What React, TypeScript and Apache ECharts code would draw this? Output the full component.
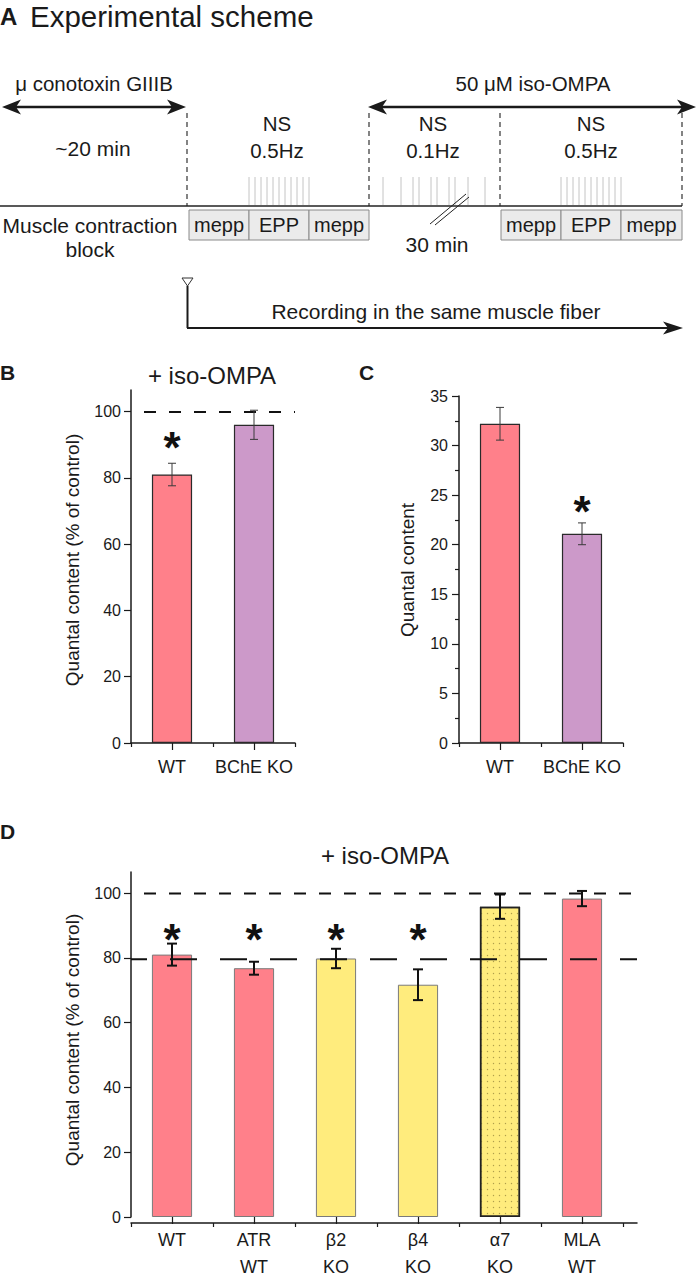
import React, { useEffect, useRef } from 'react';
import * as echarts from 'echarts';

// ---------- data ----------
const catsB = ['WT', 'BChE KO'];
const valsB = [81, 96];
const errB = [3.4, 4.4];
const starB = [92.3, null];
const refB = [100];

const catsC = ['WT', 'BChE KO'];
const valsC = [32.2, 21.1];
const errC = [1.65, 1.1];
const starC = [null, 24.4];

const catsD = ['WT', 'ATR\nWT', 'β2\nKO', 'β4\nKO', 'α7\nKO', 'MLA\nWT'];
const valsD = [81, 76.8, 79.8, 71.7, 95.8, 98.3];
const errD = [3.4, 2, 3, 4.75, 3.75, 2.35];
const starD = [88.7, 88.7, 88.7, 88.7, null, null];
const refD = [100, 80];

const pctTicks = [0, 20, 40, 60, 80, 100];

// ---------- styles ----------
const FONT = "'Liberation Sans', Arial, Helvetica, sans-serif";
const INK = '#1a1a1a';
const PINK = '#FF808A';
const PURPLE = '#CC99C9';
const YELLOW = '#FFEC7D';
const colorsB = [PINK, PURPLE];
const colorsC = [PINK, PURPLE];
const colorsD = [PINK, PINK, YELLOW, YELLOW, YELLOW, PINK];
const dottedD = [false, false, false, false, true, false];
const dashD = [[12, 13], [27, 23]];
const dashOffD = [12, 11];

function T(text: string, x: number, y: number, size: number, o: any = {}) {
  const align = o.align || 'center';
  return {
    type: 'text', x, y, rotation: o.rot || 0, silent: true,
    style: {
      text, fontSize: size, fontFamily: FONT, fontWeight: o.bold ? 'bold' : 'normal', fill: o.fill || INK,
      textAlign: align, textVerticalAlign: 'middle', align, verticalAlign: 'middle',
    },
  };
}
function L(x1: number, y1: number, x2: number, y2: number, w = 1.5, stroke = INK, dash?: number[]) {
  return { type: 'line', silent: true, shape: { x1, y1, x2, y2 }, style: { stroke, lineWidth: w, lineDash: dash, fill: 'none' } };
}
function head(tipX: number, y: number, dir: number, len = 19, half = 7.5) {
  const b = tipX - dir * len;
  const n = tipX - dir * (len - 5);
  return { type: 'polygon', silent: true, shape: { points: [[tipX, y], [b, y - half], [n, y], [b, y + half]] }, style: { fill: INK } };
}
function box(x: number, w: number, label: string) {
  return [
    { type: 'rect', silent: true, shape: { x, y: 210, width: w, height: 30 }, style: { fill: '#ebebeb', stroke: '#8a8a8a', lineWidth: 1 } },
    T(label, x + w / 2, 225, 20),
  ];
}

const stim05a = [249, 255, 261, 267, 273, 279, 285, 291, 297, 303, 309];
const stim01 = [383, 401, 413, 419, 431, 437, 449, 455, 468, 485];
const stim05b = [561, 567, 573, 579, 585, 591, 597, 603, 609, 615, 621];

function schemeGraphics() {
  const els: any[] = [];
  els.push(T('A', 0, 16, 24, { align: 'left', bold: true }));
  els.push(T('Experimental scheme', 30, 16, 29.5, { align: 'left' }));
  // left double arrow
  els.push(T('μ conotoxin GIIIB', 94, 83, 20.5));
  els.push(L(10, 107, 178, 107, 2.5));
  els.push(head(2, 107, -1));
  els.push(head(186, 107, 1));
  els.push(T('~20 min', 93, 148, 21));
  // right double arrow
  els.push(T('50 μM iso-OMPA', 533, 83, 20.5));
  els.push(L(376, 107, 688, 107, 2.5));
  els.push(head(368, 107, -1));
  els.push(head(696, 107, 1));
  // dashed verticals
  [187, 369, 500, 682].forEach((x) => els.push(L(x, 113, x, 206, 1.2, '#333', [5, 4])));
  els.push(T('NS', 277, 123, 20.5));
  els.push(T('0.5Hz', 277, 150, 20.5));
  els.push(T('NS', 433, 123, 20.5));
  els.push(T('0.1Hz', 433, 150, 20.5));
  els.push(T('NS', 591, 123, 20.5));
  els.push(T('0.5Hz', 591, 150, 20.5));
  [...stim05a, ...stim01, ...stim05b].forEach((x) => els.push(L(x, 177, x, 205, 1, '#c4c4c4')));
  els.push(L(0, 206, 682, 206, 1.5, '#222'));
  els.push(...box(189, 60, 'mepp'), ...box(249, 60, 'EPP'), ...box(309, 60, 'mepp'));
  els.push(...box(501, 60, 'mepp'), ...box(561, 60, 'EPP'), ...box(621, 61, 'mepp'));
  els.push(T('Muscle contraction', 90, 225, 21));
  els.push(T('block', 90, 249, 21));
  els.push(L(430, 224, 466, 194, 1, '#222'));
  els.push(L(435, 225, 469, 197, 1, '#222'));
  els.push(T('30 min', 437, 244, 21));
  // recording arrow
  els.push({ type: 'polygon', silent: true, shape: { points: [[182, 278], [193, 278], [187.5, 286]] }, style: { fill: '#fff', stroke: '#333', lineWidth: 1 } });
  els.push(L(187.5, 286, 187.5, 328, 2));
  els.push(L(187, 328, 670, 328, 2));
  els.push(head(683, 328, 1, 20, 6.5));
  els.push(T('Recording in the same muscle fiber', 436, 311, 21));
  // panel labels
  els.push(T('B', 0, 372, 21, { align: 'left', bold: true }));
  els.push(T('+ iso-OMPA', 212, 375, 24));
  els.push(T('Quantal content (% of control)', 72, 560, 19, { rot: Math.PI / 2 }));
  els.push(T('C', 359, 372, 21, { align: 'left', bold: true }));
  els.push(T('Quantal content', 407, 570, 19, { rot: Math.PI / 2 }));
  els.push(T('D', 0, 831, 21, { align: 'left', bold: true }));
  els.push(T('+ iso-OMPA', 385, 855, 24));
  els.push(T('Quantal content (% of control)', 72, 1040, 19, { rot: Math.PI / 2 }));
  return els;
}

// ---------- axis helpers ----------
function xMain(grid: number, cats: string[], margin: number, showLine = true) {
  return {
    type: 'category', gridIndex: grid, data: cats, boundaryGap: true,
    axisLine: { show: showLine, lineStyle: { color: INK, width: 1.5 } },
    axisTick: { show: true, alignWithLabel: true, length: 7, lineStyle: { color: INK, width: 1.2 } },
    axisLabel: { interval: 0, fontSize: 18, color: INK, fontFamily: FONT, margin, lineHeight: 27 },
    splitLine: { show: false },
  };
}
function xBound(grid: number, cats: string[]) {
  return {
    type: 'category', gridIndex: grid, data: cats, boundaryGap: true,
    axisLine: { show: false },
    axisTick: { show: true, alignWithLabel: false, length: 4, lineStyle: { color: INK, width: 1.2 } },
    axisLabel: { show: false },
    splitLine: { show: false },
  };
}
function yVis(grid: number, max: number, extra: any = {}) {
  return {
    type: 'value', gridIndex: grid, min: 0, max,
    axisLine: { show: true, lineStyle: { color: INK, width: 1.5 } },
    axisTick: { show: true, length: 7, lineStyle: { color: INK, width: 1.2 }, ...(extra.tick || {}) },
    axisLabel: { fontSize: 16, color: INK, fontFamily: FONT, margin: 10, ...(extra.label || {}) },
    splitLine: { show: false },
    ...(extra.axis || {}),
  };
}
function yHidden(grid: number, max: number) {
  return { type: 'value', gridIndex: grid, min: 0, max, show: false, splitLine: { show: false } };
}

function errSeries(xi: number, vals: number[], errs: number[], width: number, color: string, cap: number) {
  return {
    type: 'custom', xAxisIndex: xi, yAxisIndex: xi, z: 6, silent: true,
    data: vals.map((v, i) => [i, v - errs[i], v + errs[i]]),
    renderItem: (_p: any, api: any) => {
      const x = api.value(0);
      const lo = api.coord([x, api.value(1)]);
      const hi = api.coord([x, api.value(2)]);
      const style = { stroke: color, lineWidth: width, fill: 'none' };
      return {
        type: 'group',
        children: [
          { type: 'line', shape: { x1: lo[0], y1: lo[1], x2: hi[0], y2: hi[1] }, style },
          { type: 'line', shape: { x1: lo[0] - cap, y1: lo[1], x2: lo[0] + cap, y2: lo[1] }, style },
          { type: 'line', shape: { x1: hi[0] - cap, y1: hi[1], x2: hi[0] + cap, y2: hi[1] }, style },
        ],
      };
    },
  };
}
function starSeries(xi: number, stars: (number | null)[]) {
  return {
    type: 'custom', xAxisIndex: xi, yAxisIndex: xi, z: 7, silent: true,
    data: stars.flatMap((s, i) => (s == null ? [] : [[i, s]])),
    renderItem: (_p: any, api: any) => {
      const p = api.coord([api.value(0), api.value(1)]);
      return {
        type: 'text', x: p[0], y: p[1] + 10,
        style: {
          text: '*', fontSize: 44, fontWeight: 'bold', fontFamily: FONT, fill: '#111',
          textAlign: 'center', textVerticalAlign: 'middle', align: 'center', verticalAlign: 'middle',
        },
      };
    },
  };
}

export default function App() {
  const ref = useRef<HTMLDivElement>(null);
  useEffect(() => {
    document.body.style.margin = '0';
    if (!ref.current) return;
    const chart = echarts.init(ref.current, null, { renderer: 'svg' });
    const option: any = {
      animation: false,
      backgroundColor: '#ffffff',
      textStyle: { fontFamily: FONT },
      grid: [
        { left: 131, top: 390, width: 164, height: 353, containLabel: false },
        { left: 131, top: 390, width: 164, height: 353, containLabel: false },
        { left: 459, top: 396, width: 164, height: 347, containLabel: false },
        { left: 459, top: 396, width: 164, height: 347, containLabel: false },
        { left: 131, top: 872, width: 492, height: 351, containLabel: false },
        { left: 131, top: 872, width: 492, height: 351, containLabel: false },
        { left: 131, top: 872, width: 506, height: 351, containLabel: false },
      ],
      xAxis: [
        xMain(0, catsB, 10.5),
        xBound(1, catsB),
        xMain(2, catsC, 10.5),
        xBound(3, catsC),
        xMain(4, catsD, 9, false),
        xBound(5, catsD),
        {
          type: 'value', gridIndex: 6, min: 0, max: 1,
          axisLine: { show: true, lineStyle: { color: INK, width: 1.5 } },
          axisTick: { show: false }, axisLabel: { show: false }, splitLine: { show: false },
        },
      ],
      yAxis: [
        yVis(0, 106.5, { tick: { customValues: pctTicks }, label: { customValues: pctTicks } }),
        yHidden(1, 106.5),
        yVis(2, 35, { axis: { interval: 5, minorTick: { show: true, splitNumber: 2, length: 4, lineStyle: { color: INK, width: 1.2 } } }, label: { margin: 11 } }),
        yHidden(3, 35),
        yVis(4, 106.5, { tick: { customValues: pctTicks }, label: { customValues: pctTicks } }),
        yHidden(5, 106.5),
        yHidden(6, 106.5),
      ],
      series: [
        {
          type: 'bar', xAxisIndex: 0, yAxisIndex: 0, barWidth: '49%', z: 2, silent: true,
          data: valsB.map((v, i) => ({ value: v, itemStyle: { color: colorsB[i] } })),
          itemStyle: { borderColor: '#2a2a2a', borderWidth: 1.2 },
          markLine: {
            silent: true, symbol: ['none', 'none'], label: { show: false },
            lineStyle: { color: '#111', width: 2, type: [12, 13], dashOffset: 12 },
            data: refB.map((r) => ({ yAxis: r })),
          },
        },
        errSeries(0, valsB, errB, 1, '#3a3a3a', 4),
        starSeries(0, starB),
        {
          type: 'bar', xAxisIndex: 2, yAxisIndex: 2, barWidth: '49%', z: 2, silent: true,
          data: valsC.map((v, i) => ({ value: v, itemStyle: { color: colorsC[i] } })),
          itemStyle: { borderColor: '#2a2a2a', borderWidth: 1.2 },
        },
        errSeries(2, valsC, errC, 1, '#3a3a3a', 4),
        starSeries(2, starC),
        {
          type: 'bar', xAxisIndex: 4, yAxisIndex: 4, barWidth: '49%', z: 2, silent: true,
          data: valsD.map((v, i) => ({
            value: v,
            itemStyle: dottedD[i]
              ? {
                  color: colorsD[i], borderColor: '#222', borderWidth: 1.5,
                  decal: { symbol: 'circle', symbolSize: 0.45, color: 'rgba(120,105,40,0.6)', dashArrayX: 2.5, dashArrayY: 2.5 },
                }
              : { color: colorsD[i], borderColor: '#7a7a7a', borderWidth: 1 },
          })),
        },
        ...refD.map((r, k) => ({
          type: 'line', xAxisIndex: 6, yAxisIndex: 6, z: 4, silent: true, symbol: 'none',
          data: [[0, r], [1, r]],
          lineStyle: { color: '#111', width: 2, type: dashD[k], dashOffset: dashOffD[k] },
        })),
        errSeries(4, valsD, errD, 2, '#111', 5),
        starSeries(4, starD),
      ],
      graphic: { elements: schemeGraphics() },
    };
    chart.setOption(option);
    return () => chart.dispose();
  }, []);
  return <div ref={ref} style={{ position: 'absolute', left: 0, top: 0, width: 697, height: 1280, background: '#fff' }} />;
}
